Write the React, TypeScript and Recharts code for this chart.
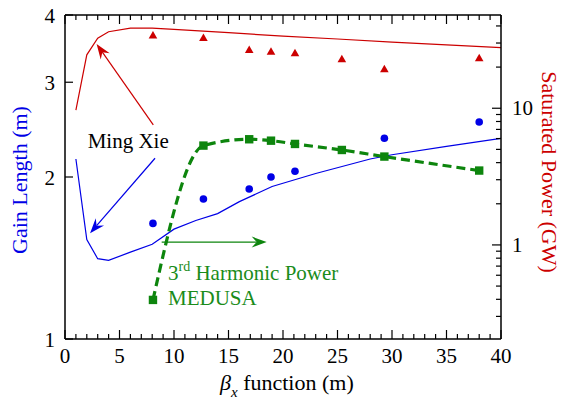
import React from "react";
import {
  ComposedChart,
  Line,
  Scatter,
  XAxis,
  YAxis,
  ReferenceLine,
  ReferenceDot,
} from "recharts";

const FONT = "Liberation Serif";
const BLUE = "#0000e6";
const RED = "#cc0000";
const GREEN = "#0d850d";
const TEXT_GREEN = "#1a8c1a";

// Ming Xie formula: gain length (left axis)
const xieBeta = [1, 2, 3, 4, 6, 8, 10, 12, 14, 16, 19, 23, 28, 30, 35, 40];
const xieGain = [2.16, 1.53, 1.41, 1.4, 1.45, 1.5, 1.6, 1.66, 1.71, 1.8, 1.92, 2.03, 2.16, 2.2, 2.28, 2.36];

// Ming Xie formula: saturated power (right axis)
const xiePowBeta = [1, 2, 3, 4, 6, 8, 10, 15, 20, 25, 30, 35, 40];
const xiePower = [9.7, 24.6, 32.5, 36.3, 38.5, 38.5, 37.8, 35.7, 33.7, 32.1, 30.5, 29.1, 27.8];

// MEDUSA runs
const medusaBeta = [8.07, 12.7, 16.9, 18.9, 21.1, 25.4, 29.3, 38];
const medusaPower = [34.0, 32.7, 26.7, 25.9, 25.3, 22.8, 19.3, 23.2];
const harmonicPower = [0.396, 5.33, 5.93, 5.79, 5.48, 4.95, 4.43, 3.5];
const gainBeta = [8.07, 12.7, 16.9, 18.9, 21.1, 29.3, 38];
const medusaGain = [1.64, 1.82, 1.9, 2.0, 2.05, 2.36, 2.53];

// axis ticks
const betaLabels = [0, 5, 10, 15, 20, 25, 30, 35, 40];
const betaTicks = Array.from({ length: 41 }, (_, i) => i);
const gainTicks = [1, 2, 3, 4];
const powerLabels = [1, 10];
const powerTicks = [0.3, 0.4, 0.5, 0.6, 0.7, 0.8, 0.9, 1, 2, 3, 4, 5, 6, 7, 8, 9, 10, 20, 30, 40];

const xieGainData = xieBeta.map((b, i) => ({ b, v: xieGain[i] }));
const xiePowerData = xiePowBeta.map((b, i) => ({ b, v: xiePower[i] }));
const medusaGainData = gainBeta.map((b, i) => ({ b, v: medusaGain[i] }));
const medusaPowerData = medusaBeta.map((b, i) => ({ b, v: medusaPower[i] }));
const harmonicData = medusaBeta.map((b, i) => ({ b, v: harmonicPower[i] }));

const tickText = {
  fontSize: 21,
  fontFamily: FONT,
  fill: "#000",
};

const bottomTick = (props: any) => {
  const { x, y, payload } = props;
  const major = betaLabels.includes(payload.value);
  return (
    <g>
      <line x1={x} x2={x} y1={y} y2={y - (major ? 9 : 5)} stroke="#000" strokeWidth={1.2} />
      {major && (
        <text x={x} y={y + 24} textAnchor="middle" style={tickText}>
          {payload.value}
        </text>
      )}
    </g>
  );
};

const topTick = (props: any) => {
  const { x, y, payload } = props;
  const major = betaLabels.includes(payload.value);
  return <line x1={x} x2={x} y1={y} y2={y + (major ? 9 : 5)} stroke="#000" strokeWidth={1.2} />;
};

const leftTick = (props: any) => {
  const { x, y, payload } = props;
  return (
    <g>
      <line x1={x} x2={x + 8} y1={y} y2={y} stroke="#000" strokeWidth={1.2} />
      <text x={x - 10} y={y + 7.5} textAnchor="end" style={tickText}>
        {payload.value}
      </text>
    </g>
  );
};

const rightTick = (props: any) => {
  const { x, y, payload } = props;
  const major = powerLabels.includes(payload.value);
  return (
    <g>
      <line x1={x} x2={x - (major ? 9 : 5)} y1={y} y2={y} stroke="#000" strokeWidth={1.2} />
      {major && (
        <text x={x + 11} y={y + 7} textAnchor="start" style={tickText}>
          {payload.value}
        </text>
      )}
    </g>
  );
};

// line with a filled "stealth" head at the second segment point
const arrow = (color: string) => (props: any) => {
  const { x1, y1, x2, y2 } = props;
  const len = Math.hypot(x2 - x1, y2 - y1) || 1;
  const ux = (x2 - x1) / len;
  const uy = (y2 - y1) / len;
  const nx = -uy;
  const ny = ux;
  const L = 15;
  const W = 5.5;
  const notch = 5;
  const bx = x2 - L * ux;
  const by = y2 - L * uy;
  const mx = x2 - (L - notch) * ux;
  const my = y2 - (L - notch) * uy;
  const d = `M${x2},${y2} L${bx + W * nx},${by + W * ny} L${mx},${my} L${bx - W * nx},${by - W * ny} Z`;
  return (
    <g>
      <line x1={x1} y1={y1} x2={mx} y2={my} stroke={color} strokeWidth={1.2} />
      <path d={d} fill={color} stroke="none" />
    </g>
  );
};

const label = (lines: React.ReactNode, color: string) => (props: any) => (
  <text x={props.cx} y={props.cy} style={{ fontSize: 21, fontFamily: FONT, fill: color }}>
    {lines}
  </text>
);

const circle = (props: any) => <circle cx={props.cx} cy={props.cy} r={3.8} fill={BLUE} />;

const triangle = (props: any) => {
  const { cx, cy } = props;
  return <path d={`M${cx},${cy - 4.5} L${cx + 4.3},${cy + 3} L${cx - 4.3},${cy + 3} Z`} fill={RED} />;
};

const square = (props: any) => {
  const { cx, cy, index } = props;
  return <rect key={`sq-${index}`} x={cx - 4.2} y={cy - 4.2} width={8.4} height={8.4} fill={GREEN} />;
};

export default function App() {
  return (
    <div
      style={{
        position: "absolute",
        left: 0,
        top: 0,
        width: 561,
        height: 400,
        background: "#fff",
        fontFamily: FONT,
      }}
    >
      <ComposedChart width={561} height={400} margin={{ top: 0, right: 0, bottom: 0, left: 0 }}>
        <XAxis
          xAxisId={0}
          type="number"
          dataKey="b"
          domain={[0, 40]}
          ticks={betaTicks}
          interval={0}
          height={61}
          tickSize={0}
          tickMargin={0}
          tickLine={false}
          tick={bottomTick}
          axisLine={{ stroke: "#000", strokeWidth: 1.5 }}
          allowDataOverflow
        />
        <XAxis
          xAxisId="top"
          orientation="top"
          type="number"
          dataKey="b"
          domain={[0, 40]}
          ticks={betaTicks}
          interval={0}
          height={15}
          tickSize={0}
          tickMargin={0}
          tickLine={false}
          tick={topTick}
          axisLine={{ stroke: "#000", strokeWidth: 1.5 }}
          allowDataOverflow
        />
        <YAxis
          yAxisId="L"
          type="number"
          scale="log"
          domain={[1, 4]}
          ticks={gainTicks}
          interval={0}
          width={65}
          tickSize={0}
          tickMargin={0}
          tickLine={false}
          tick={leftTick}
          axisLine={{ stroke: "#000", strokeWidth: 1.5 }}
          allowDataOverflow
        />
        <YAxis
          yAxisId="R"
          orientation="right"
          type="number"
          scale="log"
          domain={[0.205, 48.1]}
          ticks={powerTicks}
          interval={0}
          width={60}
          tickSize={0}
          tickMargin={0}
          tickLine={false}
          tick={rightTick}
          axisLine={{ stroke: "#000", strokeWidth: 1.5 }}
          allowDataOverflow
        />

        <Line
          data={xieGainData}
          dataKey="v"
          yAxisId="L"
          type="linear"
          stroke={BLUE}
          strokeWidth={1.2}
          dot={false}
          isAnimationActive={false}
        />
        <Line
          data={xiePowerData}
          dataKey="v"
          yAxisId="R"
          type="linear"
          stroke={RED}
          strokeWidth={1.2}
          dot={false}
          isAnimationActive={false}
        />
        <Line
          data={harmonicData}
          dataKey="v"
          yAxisId="R"
          type="monotone"
          stroke={GREEN}
          strokeWidth={3.2}
          strokeDasharray="9 5"
          dot={square}
          isAnimationActive={false}
        />
        <Scatter data={medusaGainData} dataKey="v" yAxisId="L" shape={circle} isAnimationActive={false} />
        <Scatter data={medusaPowerData} dataKey="v" yAxisId="R" shape={triangle} isAnimationActive={false} />

        <ReferenceLine
          yAxisId="R"
          segment={[{ x: 8.1, y: 7.55 }, { x: 2.9, y: 29.5 }]}
          shape={arrow(RED)}
        />
        <ReferenceLine
          yAxisId="L"
          segment={[{ x: 8.26, y: 2.167 }, { x: 2.3, y: 1.572 }]}
          shape={arrow(BLUE)}
        />
        <ReferenceLine
          yAxisId="R"
          segment={[{ x: 8.87, y: 1.05 }, { x: 18.5, y: 1.05 }]}
          shape={arrow(GREEN)}
        />

        <ReferenceDot x={2.08} y={2.262} yAxisId="L" r={0} shape={label("Ming Xie", "#000")} />
        <ReferenceDot
          x={9.45}
          y={0.555}
          yAxisId="R"
          r={0}
          shape={label(
            <>
              <tspan>3</tspan>
              <tspan style={{ fontSize: 14 }} dy={-9}>rd</tspan>
              <tspan dy={9}> Harmonic Power</tspan>
            </>,
            TEXT_GREEN
          )}
        />
        <ReferenceDot x={9.45} y={0.364} yAxisId="R" r={0} shape={label("MEDUSA", TEXT_GREEN)} />

        <text
          transform="translate(27,180) rotate(-90)"
          textAnchor="middle"
          style={{ fontSize: 22, fontFamily: FONT, fill: BLUE }}
        >
          Gain Length (m)
        </text>
        <text
          transform="translate(542,172) rotate(90)"
          textAnchor="middle"
          style={{ fontSize: 22, fontFamily: FONT, fill: RED }}
        >
          Saturated Power (GW)
        </text>
        <text x={220} y={390} style={{ fontSize: 22, fontFamily: FONT, fill: "#000" }}>
          <tspan style={{ fontStyle: "italic" }}>β</tspan>
          <tspan style={{ fontStyle: "italic", fontSize: 15 }} dy={7}>x</tspan>
          <tspan dy={-7}> function (m)</tspan>
        </text>
      </ComposedChart>
    </div>
  );
}
